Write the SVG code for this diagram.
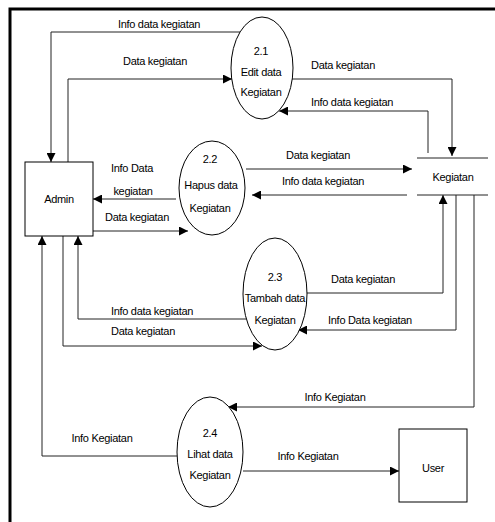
<svg xmlns="http://www.w3.org/2000/svg" width="495" height="522" viewBox="0 0 495 522">
<style>
text{font-family:"Liberation Sans",Arial,sans-serif;font-size:11px;letter-spacing:-0.3px;fill:#000;text-anchor:middle}
.shape{fill:#fff;stroke:#000;stroke-width:1}
.flow{fill:none;stroke:#222;stroke-width:1}
.arr{marker-end:url(#ah)}
.frame{stroke:#000;stroke-width:3;fill:none}
</style>
<defs>
<marker id="ah" viewBox="0 0 10 10" refX="10" refY="5" markerWidth="10" markerHeight="9" markerUnits="userSpaceOnUse" orient="auto">
<path d="M0,0 L10,5 L0,10 Z" fill="#000"/>
</marker>
</defs>
<rect width="495" height="522" fill="#fff"/>
<path class="frame" d="M10,522 V9 H495"/>

<g id="connectors">
<path class="flow arr" d="M240,32 H51 V162"/>
<path class="flow arr" d="M68,162 V79 H232"/>
<path class="flow arr" d="M292,79 H452 V156"/>
<path class="flow arr" d="M428,153 V111 H279"/>
<path class="flow arr" d="M246,169 H412"/>
<path class="flow arr" d="M407,195 H252"/>
<path class="flow arr" d="M176,199 H93"/>
<path class="flow arr" d="M93,231 H188"/>
<path class="flow arr" d="M246,319 H78 V236"/>
<path class="flow arr" d="M63,236 V346 H262"/>
<path class="flow arr" d="M177,456 H42 V236"/>
<path class="flow arr" d="M307,293 H443 V195"/>
<path class="flow arr" d="M456,195 V330 H298"/>
<path class="flow arr" d="M474,195 V407 H228"/>
<path class="flow arr" d="M243,471 H399"/>
<text x="159" y="28">Info data kegiatan</text>
<text x="155" y="65">Data kegiatan</text>
<text x="343" y="69">Data kegiatan</text>
<text x="352" y="106">Info data kegiatan</text>
<text x="318" y="159">Data kegiatan</text>
<text x="323" y="185">Info data kegiatan</text>
<text x="132" y="172">Info Data</text>
<text x="133" y="195">kegiatan</text>
<text x="137" y="221">Data kegiatan</text>
<text x="152" y="315">Info data kegiatan</text>
<text x="143" y="335">Data kegiatan</text>
<text x="363" y="283">Data kegiatan</text>
<text x="370" y="324">Info Data kegiatan</text>
<text x="335" y="401">Info Kegiatan</text>
<text x="102" y="442">Info Kegiatan</text>
<text x="308" y="460">Info Kegiatan</text>
</g>

<g id="admin">
<rect class="shape" x="25" y="162" width="68" height="74"/>
<text x="59" y="203">Admin</text>
</g>

<g id="p21">
<ellipse class="shape" cx="262" cy="68" rx="31" ry="51"/>
<text x="261" y="55">2.1</text>
<text x="261" y="76">Edit data</text>
<text x="261" y="96">Kegiatan</text>
</g>

<g id="p22">
<ellipse class="shape" cx="212" cy="188" rx="33" ry="47"/>
<text x="210" y="163">2.2</text>
<text x="211" y="189">Hapus data</text>
<text x="210" y="212">Kegiatan</text>
</g>

<g id="p23">
<ellipse class="shape" cx="275" cy="294" rx="32" ry="56"/>
<text x="275" y="281">2.3</text>
<text x="275" y="302">Tambah data</text>
<text x="275" y="324">Kegiatan</text>
</g>

<g id="p24">
<ellipse class="shape" cx="210" cy="452" rx="33" ry="55"/>
<text x="210" y="437">2.4</text>
<text x="210" y="458">Lihat data</text>
<text x="210" y="479">Kegiatan</text>
</g>

<g id="kegiatan">
<line class="flow" x1="417" y1="158" x2="488" y2="158"/>
<line class="flow" x1="417" y1="195" x2="488" y2="195"/>
<text x="453" y="181">Kegiatan</text>
</g>

<g id="user">
<rect class="shape" x="399" y="429" width="68" height="73"/>
<text x="433" y="472">User</text>
</g>
</svg>
